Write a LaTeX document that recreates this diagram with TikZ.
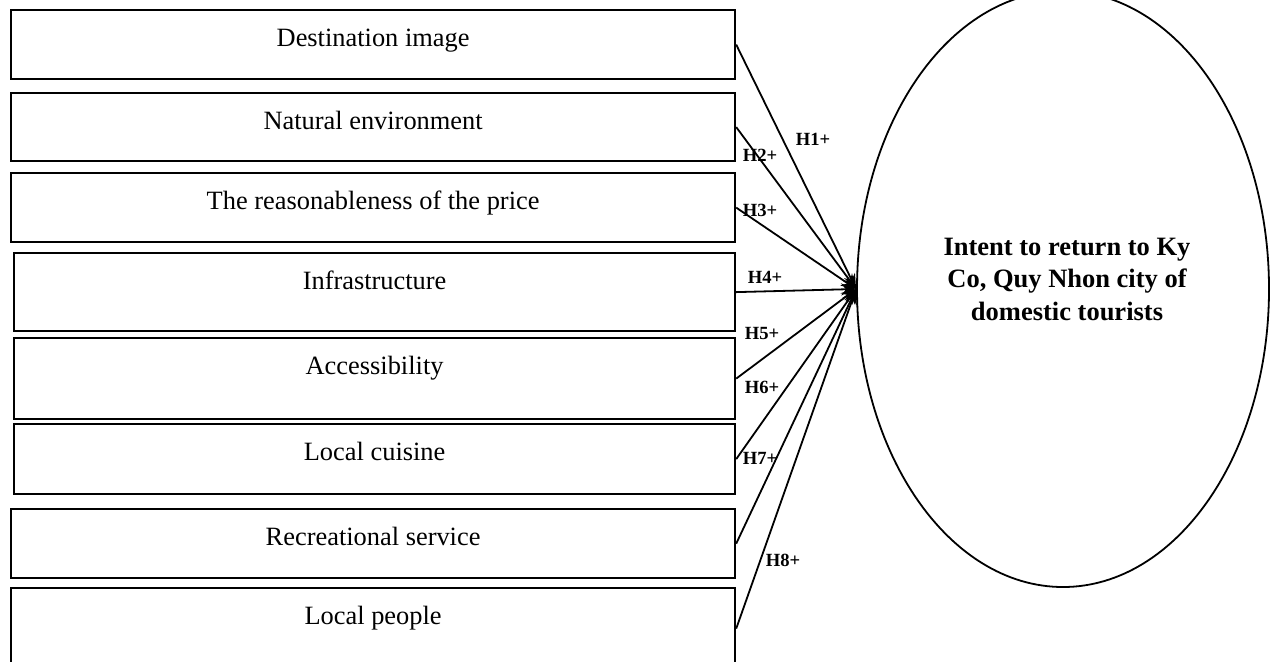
\documentclass[tikz,border=0pt]{standalone}
\usepackage{fontspec}
\setmainfont{Liberation Serif}
\usetikzlibrary{arrows.meta,shapes.geometric}

\begin{document}
\begin{tikzpicture}[
  x=0.5pt, y=-0.5pt,
  factor/.style={draw, line width=1.1pt, anchor=north west, inner sep=0pt},
  flab/.style={font=\fontsize{13.2}{15}\selectfont, anchor=base, inner sep=0pt},
  goal/.style={draw, ellipse, line width=0.9pt, minimum width=206pt, minimum height=298pt, inner sep=0pt},
  hyp/.style={font=\bfseries\fontsize{9.3}{11}\selectfont, inner sep=0pt},
  link/.style={line width=0.9pt, -{Stealth[length=7.5pt, width=6pt]}}
]
\useasboundingbox (0,0) rectangle (1272,661);
\node[goal] (intent) at (1063,289) {};
\node[font=\bfseries\fontsize{13.25}{16.25}\selectfont, align=center] (intentlab) at (1067,279)
  {Intent to return to Ky\\Co, Quy Nhon city of\\domestic tourists};
\foreach \i/\xa/\ya/\yb/\txt in {
  1/10/9/78/Destination image,
  2/10/92/160/Natural environment,
  3/10/172/241/The reasonableness of the price,
  4/13/252/330/Infrastructure,
  5/13/337/418/Accessibility,
  6/13/423/493/Local cuisine,
  7/10/508/577/Recreational service,
  8/10/587/668/Local people} {
  \node[factor, minimum width={(734-\xa)*0.5pt}, minimum height={(\yb-\ya)*0.5pt}] (f\i) at (\xa,\ya) {};
  \node[flab] (l\i) at ([yshift=-18.5pt]f\i.north) {\txt};
  \draw[link] (f\i.east) -- (intent.west);
}
\foreach \i/\xa/\ya in {1/813/139,2/760/155,3/760/210,4/765/277,5/762/333,6/762/387,7/760/458,8/783/560}
  \node[hyp] (h\i) at (\xa,\ya) {H\i+};
\end{tikzpicture}
\end{document}
